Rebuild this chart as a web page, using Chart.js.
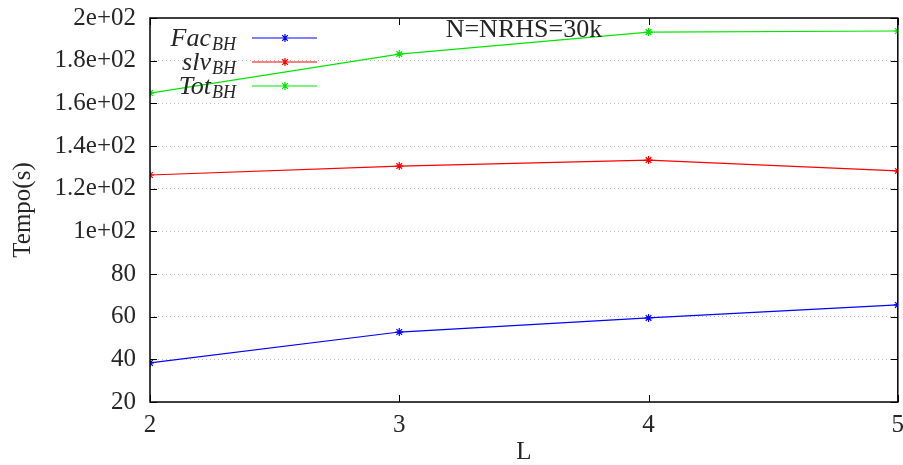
<!DOCTYPE html>
<html>
<head>
<meta charset="utf-8">
<script src="https://cdn.jsdelivr.net/npm/chart.js@4/dist/chart.umd.min.js"></script>
<style>
  html, body { margin: 0; padding: 0; background: #fff; }
  #wrap { width: 903px; height: 465px; }
</style>
</head>
<body>
<div id="wrap"><canvas id="myChart" width="903" height="465"></canvas></div>
<script>
// data
const L = [2, 3, 4, 5];
const facBH = [38.3, 52.8, 59.4, 65.5];
const slvBH = [126.4, 130.6, 133.4, 128.3];
const totBH = [164.8, 183.1, 193.4, 193.9];
const yTicks = [20, 40, 60, 80, 100, 120, 140, 160, 180, 200];
const yTickLabels = ['20', '40', '60', '80', '1e+02', '1.2e+02', '1.4e+02', '1.6e+02', '1.8e+02', '2e+02'];
const seriesNames = [['Fac', 'BH'], ['slv', 'BH'], ['Tot', 'BH']];
const colors = ['#0000ff', '#ff0000', '#00e600'];
const title = 'N=NRHS=30k';

const FONT = '"Liberation Serif", "Times New Roman", serif';
const TXT = '#262626';

const ser = [facBH, slvBH, totBH];

// gnuplot-ish frame, inward ticks, title and legend
const gnuplotStuff = {
  id: 'gnuplotStuff',
  afterDatasetsDraw(chart) {
    const { ctx, chartArea: a, scales } = chart;
    ctx.save();
    ctx.strokeStyle = '#000';
    ctx.lineWidth = 1.5;
    ctx.strokeRect(a.left, a.top, a.right - a.left, a.bottom - a.top);
    ctx.lineWidth = 1;
    ctx.beginPath();
    yTicks.forEach(v => {
      const y = Math.round(scales.y.getPixelForValue(v)) + 0.5;
      ctx.moveTo(a.left, y); ctx.lineTo(a.left + 7, y);
      ctx.moveTo(a.right, y); ctx.lineTo(a.right - 7, y);
    });
    L.forEach(v => {
      const x = Math.round(scales.x.getPixelForValue(v)) + 0.5;
      ctx.moveTo(x, a.bottom); ctx.lineTo(x, a.bottom - 7);
      ctx.moveTo(x, a.top); ctx.lineTo(x, a.top + 7);
    });
    ctx.stroke();

    // title inside the plot
    ctx.fillStyle = TXT;
    ctx.font = '26px ' + FONT;
    ctx.textAlign = 'center';
    ctx.textBaseline = 'middle';
    ctx.fillText(title, (a.left + a.right) / 2, a.top + 12);

    // legend with subscripts
    seriesNames.forEach((n, i) => {
      const y = a.top + 20 + i * 24;
      const xr = 236;
      ctx.font = 'italic 18px ' + FONT;
      const subW = ctx.measureText(n[1]).width;
      ctx.textAlign = 'right';
      ctx.textBaseline = 'alphabetic';
      ctx.fillText(n[1], xr, y + 12);
      ctx.font = 'italic 26px ' + FONT;
      ctx.fillText(n[0], xr - subW - 1, y + 8);
      ctx.strokeStyle = colors[i];
      ctx.lineWidth = 1.2;
      ctx.beginPath();
      ctx.moveTo(252, y); ctx.lineTo(317, y);
      const mx = 285, r = 4;
      ctx.moveTo(mx - r, y); ctx.lineTo(mx + r, y);
      ctx.moveTo(mx, y - r); ctx.lineTo(mx, y + r);
      ctx.moveTo(mx - r * 0.7, y - r * 0.7); ctx.lineTo(mx + r * 0.7, y + r * 0.7);
      ctx.moveTo(mx - r * 0.7, y + r * 0.7); ctx.lineTo(mx + r * 0.7, y - r * 0.7);
      ctx.stroke();
    });
    ctx.restore();
  }
};

const ctx = document.getElementById('myChart').getContext('2d');
const myChart = new Chart(ctx, {
  type: 'line',
  data: {
    datasets: ser.map((d, i) => ({
      label: seriesNames[i].join('_'),
      data: L.map((x, j) => ({ x, y: d[j] })),
      borderColor: colors[i],
      backgroundColor: colors[i],
      borderWidth: 1.2,
      pointStyle: 'star',
      pointRadius: 4,
      pointBorderWidth: 1.2,
      tension: 0,
      fill: false
    }))
  },
  options: {
    responsive: false,
    animation: false,
    layout: { padding: { left: 0, right: 1, top: 18, bottom: 0 } },
    plugins: { legend: { display: false }, tooltip: { enabled: false } },
    scales: {
      x: {
        type: 'linear',
        min: 2, max: 5,
        afterBuildTicks: s => { s.ticks = L.map(v => ({ value: v })); },
        afterFit: s => { s.height = 63; s.paddingLeft = 0; s.paddingRight = 0; },
        grid: { display: false, drawTicks: false },
        border: { display: false },
        ticks: { color: TXT, font: { family: FONT, size: 25 }, padding: 8, maxRotation: 0 },
        title: { display: true, text: 'L', color: TXT, font: { family: FONT, size: 25 }, padding: { top: 0, bottom: -2 } }
      },
      y: {
        min: 20, max: 200,
        afterBuildTicks: s => { s.ticks = yTicks.map(v => ({ value: v })); },
        afterFit: s => { s.width = 150; s.paddingTop = 0; s.paddingBottom = 0; },
        grid: { color: '#bbbbbb', lineWidth: 1, drawTicks: false },
        border: { display: false, dash: [1, 3] },
        ticks: {
          color: TXT, font: { family: FONT, size: 25 }, padding: 14,
          callback: v => yTickLabels[yTicks.indexOf(v)]
        },
        title: { display: true, text: 'Tempo(s)', color: TXT, font: { family: FONT, size: 25 }, padding: { top: 8, bottom: 0 } }
      }
    }
  },
  plugins: [gnuplotStuff]
});
</script>
</body>
</html>
